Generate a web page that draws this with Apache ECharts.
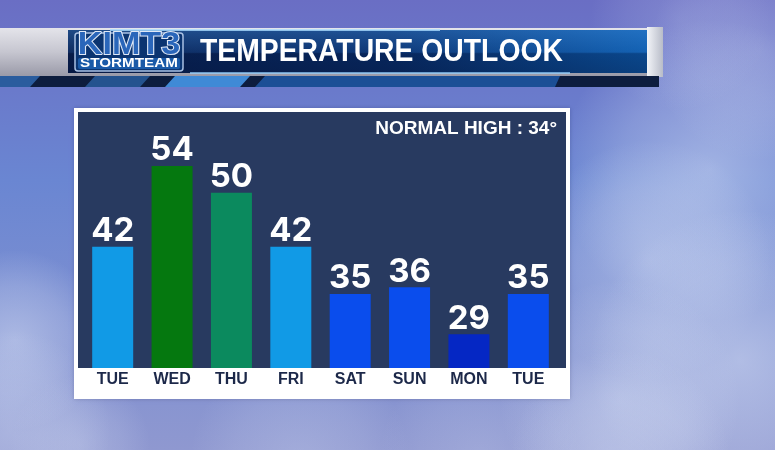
<!DOCTYPE html>
<html>
<head>
<meta charset="utf-8">
<script src="https://cdn.jsdelivr.net/npm/echarts@6/dist/echarts.min.js"></script>
<style>
  html, body { margin: 0; padding: 0; }
  #chart { width: 775px; height: 450px; }
</style>
</head>
<body>
<div id="chart"></div>
<script>
// 8 day outlook, highs in F
var days = ["TUE", "WED", "THU", "FRI", "SAT", "SUN", "MON", "TUE"];
var highs = [42, 54, 50, 42, 35, 36, 29, 35];
var normalHigh = 34;

// bar fill for each day (warmer = green, colder = darker blue)
var barColors = ["#119ae6", "#05780f", "#0b8a5e", "#119ae6", "#0a4ded", "#0a4ded", "#0527c4", "#0a4ded"];

var myChart = echarts.init(document.getElementById("chart"));
var G = echarts.graphic;

// soft cloud puffs for the sky backdrop: [cx, cy, r, alpha]
var clouds = [
  [710, 170, 150, 0.5], [650, 260, 120, 0.45], [740, 360, 150, 0.55],
  [620, 400, 120, 0.45], [760, 50, 110, 0.3], [680, 20, 90, 0.2],
  [15, 340, 90, 0.5], [10, 430, 100, 0.4], [80, 445, 70, 0.3],
  [300, 460, 110, 0.28], [480, 455, 100, 0.22], [620, 460, 110, 0.35]
];

var sky = clouds.map(function (c) {
  return {
    type: "circle",
    z: 0,
    shape: { cx: c[0], cy: c[1], r: c[2] },
    style: {
      fill: new G.RadialGradient(0.5, 0.5, 0.5, [
        { offset: 0, color: "rgba(215,224,245," + c[3] + ")" },
        { offset: 0.6, color: "rgba(215,224,245," + (c[3] * 0.5) + ")" },
        { offset: 1, color: "rgba(215,224,245,0)" }
      ])
    }
  };
});

var header = [
  // silver strip
  {
    type: "rect", z: 1,
    shape: { x: 0, y: 28, width: 663, height: 48 },
    style: {
      fill: new G.LinearGradient(0, 0, 0, 1, [
        { offset: 0, color: "#e4e4ea" },
        { offset: 0.5, color: "#c6c6d0" },
        { offset: 1, color: "#9a9aa8" }
      ])
    }
  },
  // right cap
  {
    type: "rect", z: 1,
    shape: { x: 647, y: 27, width: 16, height: 50 },
    style: {
      fill: new G.LinearGradient(0, 0, 1, 0, [
        { offset: 0, color: "#f2f4f8" },
        { offset: 1, color: "#b8bcc8" }
      ])
    }
  },
  // dark stripe under the banner
  {
    type: "rect", z: 1,
    shape: { x: 0, y: 76, width: 659, height: 11 },
    style: { fill: "#0d1d3e" }
  },
  { type: "polygon", z: 2, shape: { points: [[0, 76], [40, 76], [30, 87], [0, 87]] }, style: { fill: "#2a5c9e" } },
  { type: "polygon", z: 2, shape: { points: [[95, 76], [150, 76], [140, 87], [85, 87]] }, style: { fill: "#24538f" } },
  { type: "polygon", z: 2, shape: { points: [[175, 76], [250, 76], [240, 87], [165, 87]] }, style: { fill: "#3f8ad6" } },
  { type: "polygon", z: 2, shape: { points: [[265, 76], [560, 76], [555, 87], [255, 87]] }, style: { fill: "#1b4f96" } },
  // main blue box
  {
    type: "rect", z: 2,
    shape: { x: 68, y: 30, width: 579, height: 43 },
    style: {
      fill: new G.LinearGradient(0, 0, 1, 0, [
        { offset: 0, color: "#0a2152" },
        { offset: 0.55, color: "#0a2f6c" },
        { offset: 1, color: "#0e5cae" }
      ])
    }
  },
  {
    type: "rect", z: 3,
    shape: { x: 68, y: 30, width: 579, height: 43 },
    style: {
      fill: new G.LinearGradient(0, 0, 0, 1, [
        { offset: 0, color: "rgba(70,150,230,0.35)" },
        { offset: 0.5, color: "rgba(70,150,230,0.1)" },
        { offset: 0.55, color: "rgba(0,10,40,0.25)" },
        { offset: 1, color: "rgba(0,10,40,0.35)" }
      ])
    }
  },
  { type: "rect", z: 4, shape: { x: 110, y: 29, width: 330, height: 2 }, style: { fill: "rgba(170,220,255,0.8)" } },
  { type: "rect", z: 4, shape: { x: 190, y: 72, width: 380, height: 2 }, style: { fill: "rgba(150,210,255,0.7)" } },
  // logo
  {
    type: "rect", z: 5,
    shape: { x: 75, y: 33, width: 108, height: 38, r: 3 },
    style: { fill: "#0b3470", stroke: "#a9c0e2", lineWidth: 1.5 }
  },
  {
    type: "rect", z: 5,
    shape: { x: 78, y: 58, width: 102, height: 11, r: 2 },
    style: { fill: "#1a5aa8" }
  },
  {
    type: "text", z: 6, x: 129, y: 45, scaleX: 1.1,
    style: {
      text: "KIMT3", font: "bold 31px 'Liberation Sans', Arial, sans-serif",
      fill: "#2a66ba", stroke: "#dfe8f6", lineWidth: 2,
      textAlign: "center", textVerticalAlign: "middle"
    }
  },
  {
    type: "text", z: 6, x: 129, y: 64, scaleX: 1.27,
    style: {
      text: "STORMTEAM", font: "bold 12px 'Liberation Sans', Arial, sans-serif",
      fill: "#ffffff", textAlign: "center", textVerticalAlign: "middle"
    }
  },
  // title
  {
    type: "text", z: 6, x: 200, y: 52, scaleX: 0.885,
    style: {
      text: "TEMPERATURE OUTLOOK", font: "bold 32px 'Liberation Sans', Arial, sans-serif",
      fill: "#ffffff", textAlign: "left", textVerticalAlign: "middle"
    }
  }
];

var panel = [
  { type: "rect", z: 1, shape: { x: 74, y: 108, width: 496, height: 291 }, style: { fill: "#ffffff", shadowBlur: 4, shadowColor: "rgba(0,0,40,0.2)" } },
  { type: "rect", z: 1, shape: { x: 78, y: 112, width: 488, height: 256 }, style: { fill: "#283a60" } },
  {
    type: "text", z: 6, x: 557, y: 129,
    style: {
      text: "NORMAL HIGH : " + normalHigh + "\u00b0",
      font: "bold 19px 'Liberation Sans', Arial, sans-serif",
      fill: "#ffffff", textAlign: "right", textVerticalAlign: "middle"
    }
  }
];

var option = {
  animation: false,
  backgroundColor: new G.LinearGradient(0, 0, 0, 1, [
    { offset: 0, color: "#6a6ec4" },
    { offset: 0.4, color: "#6a86d2" },
    { offset: 1, color: "#8f98d0" }
  ]),
  graphic: { elements: sky.concat(header, panel) },
  grid: { left: 83, top: 112, width: 475, height: 256 },
  xAxis: {
    type: "category",
    data: days,
    z: 10,
    axisLine: { show: false },
    axisTick: { show: false },
    axisLabel: {
      margin: 4,
      color: "#1c2849",
      fontFamily: "'Liberation Sans', Arial, sans-serif",
      fontWeight: "bold",
      fontSize: 16
    }
  },
  yAxis: {
    type: "value",
    min: 24,
    max: 62,
    show: false,
    splitLine: { show: false }
  },
  series: [
    {
      type: "bar",
      barWidth: 41,
      z: 5,
      data: highs.map(function (v, i) {
        return { value: v, itemStyle: { color: barColors[i] } };
      }),
      label: {
        show: true,
        position: "top",
        distance: -1,
        formatter: "{c}",
        color: "#ffffff",
        fontFamily: "Inter, 'Liberation Sans', sans-serif",
        fontWeight: "bold",
        fontSize: 33
      }
    }
  ]
};

myChart.setOption(option);
</script>
</body>
</html>
